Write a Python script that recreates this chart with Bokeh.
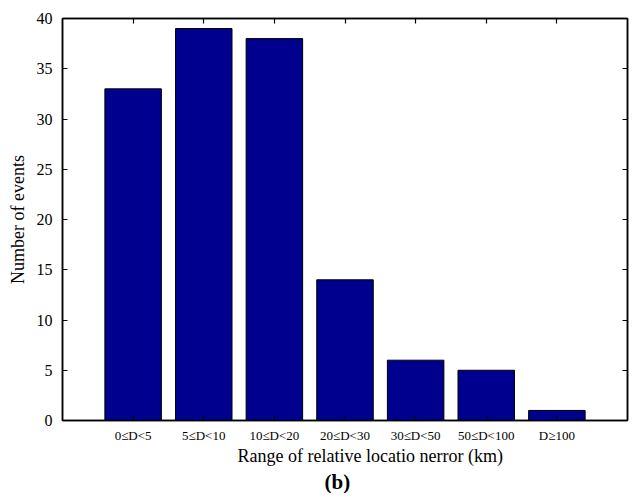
from bokeh.plotting import figure
from bokeh.models import Range1d, LinearAxis, FixedTicker, Title
from bokeh.embed import file_html
from bokeh.resources import INLINE

categories = ["0\u2264D<5", "5\u2264D<10", "10\u2264D<20", "20\u2264D<30",
              "30\u2264D<50", "50\u2264D<100", "D\u2265100"]
positions = [1, 2, 3, 4, 5, 6, 7]
counts = [33, 39, 38, 14, 6, 5, 1]
y_ticks = [0, 5, 10, 15, 20, 25, 30, 35, 40]

FONT = "Liberation Serif"

p = figure(frame_width=565, frame_height=402, output_backend="svg", toolbar_location=None,
           x_range=Range1d(0, 8), y_range=Range1d(0, 40),
           min_border_left=62, min_border_top=18, min_border_bottom=10, min_border_right=3,
           x_axis_location="below")
p.grid.visible = False
p.outline_line_color = "black"
p.outline_line_width = 1.5
p.background_fill_color = "white"
p.border_fill_color = "white"

p.vbar(x=positions, top=counts, width=0.8, bottom=0,
       fill_color="#00008F", line_color="black", line_width=1)

def style_axis(ax, ticks, labels=True):
    ax.axis_line_color = "black"
    ax.axis_line_width = 1.5
    ax.major_tick_in = 5
    ax.major_tick_out = 0
    ax.major_tick_line_color = "black"
    ax.major_tick_line_width = 1.2
    ax.minor_tick_line_color = None
    ax.major_label_text_color = "black"
    ax.axis_label_text_color = "black"
    if not labels:
        ax.major_label_overrides = {t: "" for t in ticks}
        ax.major_label_standoff = 0

# bottom axis
xa = p.xaxis[0]
xa.ticker = FixedTicker(ticks=positions)
xa.major_label_overrides = {pos: lab for pos, lab in zip(positions, categories)}
style_axis(xa, positions)
xa.major_label_text_font = FONT
xa.major_label_text_font_size = "13px"
xa.major_label_standoff = 7

# left axis
ya = p.yaxis[0]
ya.ticker = FixedTicker(ticks=y_ticks)
style_axis(ya, y_ticks)
ya.major_label_text_font = FONT
ya.major_label_text_font_size = "16px"
ya.major_label_standoff = 10
ya.axis_label = "Number of events"
ya.axis_label_text_font = FONT
ya.axis_label_text_font_size = "18px"
ya.axis_label_text_font_style = "normal"
ya.axis_label_standoff = 6

# mirrored axes
top = LinearAxis(ticker=FixedTicker(ticks=positions))
style_axis(top, positions, labels=False)
p.add_layout(top, "above")
right = LinearAxis(ticker=FixedTicker(ticks=y_ticks))
style_axis(right, y_ticks, labels=False)
p.add_layout(right, "right")

xlabel = Title(text="Range of relative locatio nerror (km)", align="left", offset=175,
               text_font=FONT, text_font_size="18px", text_font_style="normal",
               text_color="black", standoff=0, vertical_align="top")
p.add_layout(xlabel, "below")
blabel = Title(text="(b)", align="left", offset=262, text_font=FONT,
               text_font_size="21px", text_font_style="bold", text_color="black",
               standoff=0)
p.add_layout(blabel, "below")

open("out.html", "w").write(file_html(p, INLINE))
